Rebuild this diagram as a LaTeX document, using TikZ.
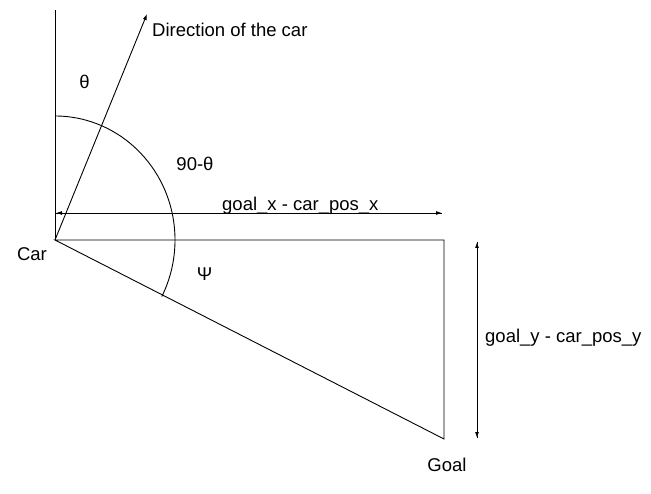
\documentclass[tikz,border=0pt]{standalone}
\usepackage{fontspec}
\setmainfont{Liberation Sans}
\usetikzlibrary{arrows.meta}
\begin{document}
\begin{tikzpicture}[x=1pt,y=-1pt,
		line/.style={black, line width=0.9pt},
		tip/.style={-{Latex[length=6pt,width=4pt]}},
		lbl/.style={inner sep=0pt, anchor=base, font=\fontsize{18.5}{22}\selectfont}]
				\useasboundingbox (0,0) rectangle (651,494);
				\coordinate (car) at (55,240);
				\coordinate (top) at (55,10);
				\coordinate (dir) at (147,14);
				\coordinate (corner) at (444,240);
				\coordinate (goal) at (444,439);
				\coordinate (arctop) at (55,116);
				\coordinate (gxl) at (56,213);
				\coordinate (gxr) at (442,213);
				\coordinate (gyt) at (477,242);
				\coordinate (gyb) at (477,438);
				\draw[line] (car) -- (top);
				\draw[line, tip] (car) -- (dir);
				\draw[line] (car) -- (corner) -- (goal) -- cycle;
				\draw[line] (arctop) arc[start angle=90, end angle=-27.1, x radius=120pt, y radius=124pt];
				\draw[line, tip] (gxr) -- (gxl);
				\draw[line, tip] (gxl) -- (gxr);
				\draw[line, tip] (gyt) -- (gyb);
				\draw[line, tip] (gyb) -- (gyt);
				\node[lbl, anchor=base west] (D) at (152,36.7){Direction of the car};
				\node[lbl] (T) at (84.5,89){θ};
				\node[lbl] (N) at (195,170.7){90-θ};
				\node[lbl, anchor=base west] (X) at (222,211){goal\_x - car\_pos\_x};
				\node[lbl] (C) at (32,261){Car};
				\node[lbl] (P) at (204.5,281){Ψ};
				\node[lbl, anchor=base west] (Y) at (485,343){goal\_y - car\_pos\_y};
				\node[lbl] (G) at (447,471){Goal};
			\end{tikzpicture}
\end{document}
